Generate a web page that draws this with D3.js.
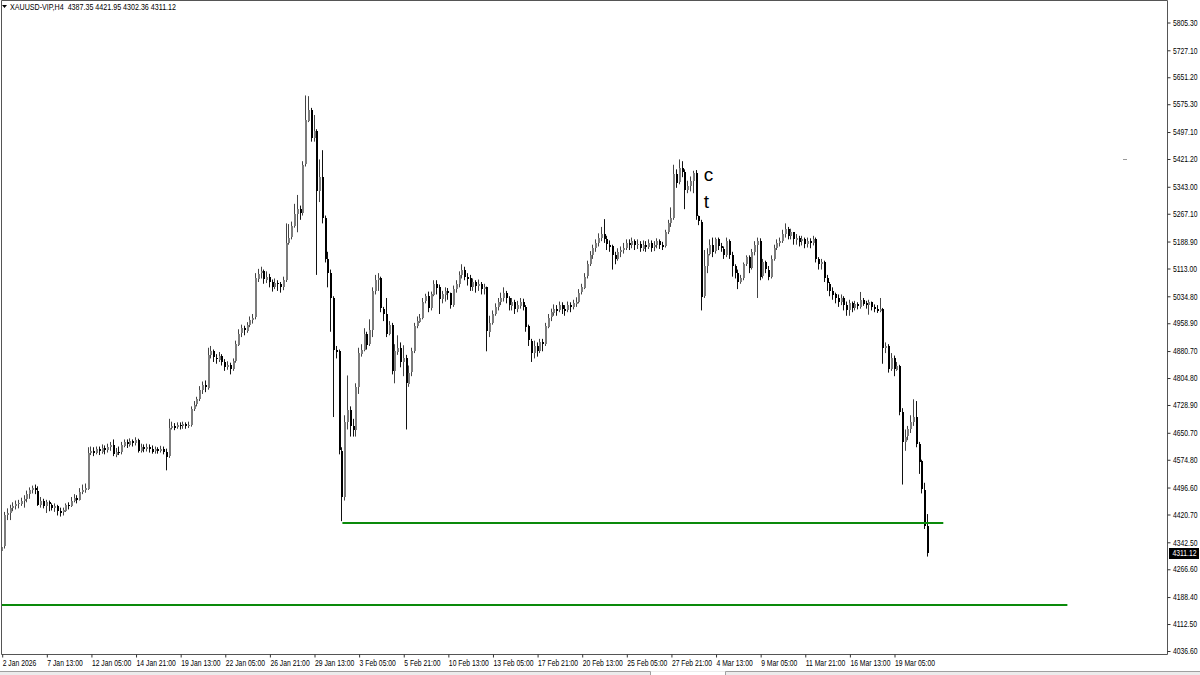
<!DOCTYPE html>
<html lang="en">
<head>
  <meta charset="UTF-8" />
  <title>XAUUSD-VIP H4</title>
  <script src="https://d3js.org/d3.v7.min.js"></script>
  <style>
    body { margin: 0; background: #fff; }
    svg { display: block; font-family: "Liberation Sans", Arial, sans-serif; }
  </style>
</head>
<body>

<svg width="1200" height="675"></svg>

<script>
  // H4 candles, open of each bar = previous close
  const firstOpen = 4318;
  const closes = [
    4330, 4418, 4425, 4440, 4445, 4450, 4452, 4460, 4465, 4478,
    4490, 4495, 4488, 4450, 4460, 4445, 4455, 4448, 4440, 4445,
    4430, 4425, 4432, 4448, 4445, 4460, 4468, 4462, 4485, 4490,
    4495, 4595, 4600, 4595, 4605, 4598, 4608, 4602, 4610, 4615,
    4590, 4598, 4595, 4615, 4625, 4618, 4628, 4622, 4630, 4600,
    4610, 4605, 4612, 4606, 4598, 4605, 4600, 4606, 4598, 4585,
    4665, 4670, 4665, 4672, 4668, 4675, 4670, 4674, 4718, 4730,
    4745, 4770, 4785, 4778, 4870, 4880, 4862, 4858, 4868, 4850,
    4835, 4842, 4830, 4852, 4900, 4930, 4945, 4938, 4955, 4968,
    4975, 5085, 5098, 5105, 5082, 5090, 5075, 5060, 5072, 5068,
    5060, 5080, 5185, 5200, 5232, 5265, 5280, 5270, 5405, 5530,
    5560, 5480, 5500, 5330, 5370, 5255, 5140, 5100, 5030, 4885,
    4880, 4600, 4470, 4680, 4715, 4670, 4660, 4780, 4875, 4885,
    4930, 4900, 4940, 5050, 5080, 5085, 5000, 4985, 4930, 4955,
    4825, 4880, 4890, 4850, 4860, 4790, 4820, 4880, 4950, 4965,
    4975, 5020, 5035, 5000, 5040, 5070, 5060, 5025, 5040, 5050,
    5045, 5010, 5055, 5070, 5095, 5110, 5090, 5085, 5060, 5075,
    5065, 5070, 5055, 5060, 4935, 4960, 4985, 5005, 5020, 5030,
    5045, 5030, 5010, 5020, 5000, 5010, 5020, 5005, 4950, 4910,
    4875, 4895, 4880, 4905, 4900, 4950, 4975, 4990, 5000, 4995,
    5010, 5000, 4995, 5010, 5005, 5015, 5020, 5045, 5060, 5090,
    5125, 5150, 5170, 5185, 5200, 5210, 5195, 5180, 5175, 5150,
    5140, 5160, 5165, 5172, 5185, 5180, 5190, 5178, 5182, 5170,
    5180, 5175, 5185, 5172, 5178, 5190, 5180, 5175, 5215, 5240,
    5255, 5380, 5355, 5395, 5385, 5335, 5345, 5360, 5382, 5260,
    5245, 5035, 5120, 5155, 5180, 5160, 5195, 5175, 5168, 5150,
    5190, 5150, 5120, 5100, 5075, 5085, 5125, 5145, 5115, 5160,
    5180, 5190, 5090, 5130, 5110, 5090, 5140, 5170, 5185, 5190,
    5210, 5225, 5205, 5215, 5195, 5200, 5190, 5195, 5182, 5190,
    5185, 5195, 5140, 5125, 5130, 5085, 5070, 5050, 5040, 5030,
    5020, 5030, 5010, 4995, 5015, 5000, 5012, 5005, 5025, 5015,
    5010, 5018, 5005, 5000, 4995, 5000, 4890, 4895, 4830, 4860,
    4830, 4840, 4710, 4625, 4640, 4660, 4680, 4695, 4620, 4570,
    4490, 4387.35, 4311.12
  ];
  const highs = [
    4345, 4428, 4438, 4448, 4455, 4460, 4462, 4468, 4475, 4488,
    4497, 4502, 4505, 4500, 4470, 4465, 4462, 4460, 4452, 4452,
    4448, 4440, 4440, 4452, 4455, 4470, 4478, 4475, 4495, 4505,
    4508, 4610, 4612, 4610, 4612, 4612, 4618, 4615, 4620, 4625,
    4632, 4608, 4612, 4625, 4632, 4632, 4635, 4632, 4638, 4634,
    4620, 4618, 4620, 4618, 4615, 4612, 4610, 4614, 4612, 4606,
    4690, 4682, 4678, 4680, 4680, 4682, 4680, 4682, 4725, 4740,
    4752, 4782, 4795, 4798, 4890, 4895, 4885, 4872, 4878, 4872,
    4858, 4852, 4848, 4860, 4910, 4942, 4955, 4952, 4962, 4978,
    4985, 5100, 5112, 5118, 5110, 5105, 5098, 5082, 5085, 5080,
    5075, 5090, 5240, 5238, 5245, 5295, 5320, 5290, 5415, 5600,
    5598, 5565, 5545, 5505, 5420, 5446, 5262, 5160, 5110, 5035,
    4895, 4885, 4610, 4700, 4812, 4725, 4690, 4790, 4890, 4900,
    4945, 4935, 4970, 5060, 5095, 5100, 5090, 5005, 5030, 4965,
    4960, 4900, 4925, 4905, 4897, 4870, 4840, 4890, 4960, 4978,
    4985, 5030, 5042, 5048, 5048, 5080, 5080, 5068, 5050, 5060,
    5058, 5045, 5065, 5080, 5105, 5125, 5118, 5100, 5095, 5085,
    5080, 5082, 5075, 5070, 5062, 4980, 4995, 5015, 5030, 5045,
    5060, 5050, 5035, 5030, 5025, 5022, 5030, 5028, 5010, 4955,
    4915, 4910, 4905, 4915, 4915, 4960, 4985, 5000, 5012, 5010,
    5020, 5018, 5010, 5020, 5018, 5025, 5032, 5055, 5070, 5100,
    5135, 5162, 5180, 5195, 5212, 5230, 5252, 5205, 5192, 5180,
    5160, 5170, 5175, 5185, 5195, 5195, 5200, 5195, 5195, 5190,
    5192, 5190, 5195, 5192, 5190, 5198, 5195, 5188, 5222, 5250,
    5285, 5405, 5392, 5420, 5415, 5392, 5360, 5372, 5388, 5390,
    5262, 5250, 5165, 5170, 5195, 5200, 5200, 5200, 5185, 5175,
    5200, 5195, 5160, 5125, 5110, 5095, 5130, 5150, 5150, 5168,
    5190, 5200, 5198, 5140, 5135, 5120, 5150, 5180, 5195, 5200,
    5222, 5240, 5230, 5225, 5215, 5210, 5205, 5205, 5200, 5200,
    5198, 5205, 5200, 5145, 5140, 5135, 5095, 5075, 5060, 5045,
    5040, 5040, 5035, 5020, 5025, 5020, 5022, 5018, 5047, 5030,
    5022, 5025, 5020, 5012, 5010, 5030, 5002, 4905, 4900, 4875,
    4868, 4850, 4842, 4720, 4660, 4670, 4700, 4745, 4740, 4625,
    4575, 4510, 4421.95
  ];
  const lows = [
    4310, 4325, 4405, 4405, 4430, 4435, 4438, 4445, 4440, 4455,
    4465, 4480, 4478, 4445, 4440, 4438, 4425, 4430, 4432, 4428,
    4418, 4415, 4418, 4428, 4435, 4442, 4455, 4452, 4460, 4478,
    4482, 4490, 4588, 4585, 4590, 4588, 4592, 4590, 4595, 4600,
    4585, 4582, 4588, 4590, 4610, 4608, 4612, 4612, 4615, 4595,
    4595, 4596, 4598, 4595, 4592, 4592, 4592, 4595, 4590, 4545,
    4580, 4660, 4658, 4662, 4660, 4662, 4662, 4664, 4668, 4712,
    4725, 4740, 4760, 4765, 4772, 4860, 4850, 4845, 4850, 4840,
    4825, 4828, 4815, 4825, 4848, 4895, 4920, 4925, 4932, 4948,
    4958, 4970, 5075, 5085, 5070, 5072, 5060, 5048, 5055, 5050,
    5045, 5052, 5075, 5180, 5195, 5228, 5215, 5250, 5262, 5400,
    5525, 5470, 5470, 5095, 5300, 5240, 5130, 5060, 4935, 4695,
    4860, 4590, 4402, 4460, 4660, 4640, 4640, 4640, 4760, 4865,
    4880, 4885, 4895, 4920, 5040, 5050, 4990, 4965, 4920, 4925,
    4815, 4790, 4870, 4835, 4810, 4660, 4780, 4810, 4875, 4945,
    4960, 4970, 5015, 4990, 4995, 5035, 5040, 4985, 5015, 5020,
    5025, 5000, 5005, 5045, 5060, 5085, 5080, 5065, 5050, 5050,
    5045, 5050, 5040, 5040, 4880, 4920, 4955, 4980, 4995, 5010,
    5020, 5015, 4995, 4995, 4985, 4990, 5000, 4995, 4935, 4895,
    4850, 4860, 4865, 4875, 4880, 4895, 4945, 4965, 4980, 4980,
    4990, 4985, 4980, 4990, 4990, 4998, 5005, 5015, 5040, 5055,
    5085, 5120, 5140, 5160, 5175, 5190, 5185, 5165, 5160, 5110,
    5125, 5135, 5145, 5155, 5165, 5165, 5170, 5165, 5168, 5160,
    5162, 5160, 5168, 5160, 5162, 5170, 5168, 5165, 5172, 5210,
    5230, 5250, 5340, 5350, 5370, 5280, 5325, 5330, 5325, 5250,
    5235, 4995, 5030, 5100, 5150, 5145, 5155, 5165, 5160, 5140,
    5145, 5140, 5090, 5085, 5055, 5070, 5080, 5120, 5100, 5110,
    5150, 5030, 5080, 5085, 5100, 5080, 5085, 5135, 5165, 5175,
    5185, 5200, 5195, 5195, 5180, 5180, 5175, 5178, 5170, 5172,
    5170, 5178, 5130, 5110, 5110, 5075, 5050, 5035, 5025, 5015,
    5005, 5010, 4995, 4980, 4980, 4990, 4995, 4998, 5000, 5008,
    5000, 4983, 4995, 4990, 4988, 4990, 4845, 4875, 4820, 4825,
    4810, 4825, 4700, 4505, 4600, 4630, 4650, 4670, 4610, 4535,
    4480, 4380, 4302.36
  ];

  const priceTicks = [
    5805.30, 5727.10, 5651.20, 5575.30, 5497.10, 5421.20, 5343.00, 5267.10,
    5188.90, 5113.00, 5034.80, 4958.90, 4880.70, 4804.80, 4728.90, 4650.70,
    4574.80, 4496.60, 4420.70, 4342.50, 4266.60, 4188.40, 4112.50, 4036.60
  ];
  const timeLabels = [
    "2 Jan 2026", "7 Jan 13:00", "12 Jan 05:00", "14 Jan 21:00", "19 Jan 13:00",
    "22 Jan 05:00", "26 Jan 21:00", "29 Jan 13:00", "3 Feb 05:00", "5 Feb 21:00",
    "10 Feb 13:00", "13 Feb 05:00", "17 Feb 21:00", "20 Feb 13:00", "25 Feb 05:00",
    "27 Feb 21:00", "4 Mar 13:00", "9 Mar 05:00", "11 Mar 21:00", "16 Mar 13:00",
    "19 Mar 05:00"
  ];
  const barsPerLabel = 16;

  // horizontal levels drawn on the chart: [fromBar, toBar, price]
  const levels = [
    [122, 337.5, 4396],
    [-0.3, 382, 4167]
  ];

  const title = "XAUUSD-VIP,H4  4387.35 4421.95 4302.36 4311.12";
  const lastPrice = 4311.12;

  const svg = d3.select("svg");
  const plotRight = 1167.5;
  const plotBottom = 654.5;

  const x = d3.scaleLinear().domain([0, 320]).range([2.2, 894.5]);
  const y = d3.scaleLinear().domain([4036.6, 5805.3]).range([651, 22.5]);

  const bars = closes.map((c, i) => ({
    i, c,
    o: i === 0 ? firstOpen : closes[i - 1],
    h: highs[i],
    l: lows[i]
  }));

  svg.append("rect").attr("width", 1200).attr("height", 675).attr("fill", "#fff");

  svg.append("clipPath").attr("id", "plot")
    .append("rect").attr("x", 1).attr("y", 1).attr("width", plotRight - 1).attr("height", plotBottom - 1);

  const g = svg.append("g").attr("clip-path", "url(#plot)");

  // candles
  const candle = g.selectAll("g.candle")
    .data(bars)
    .enter()
    .append("g")
    .attr("class", "candle");

  candle.append("line")
    .attr("x1", d => Math.round(x(d.i)) - 0.5)
    .attr("x2", d => Math.round(x(d.i)) - 0.5)
    .attr("y1", d => y(d.h))
    .attr("y2", d => y(d.l))
    .attr("stroke", d => d.c >= d.o ? "#444" : "#111")
    .attr("stroke-width", 1);

  candle.append("rect")
    .attr("x", d => Math.round(x(d.i)) - 1)
    .attr("width", 2)
    .attr("y", d => Math.round(y(Math.max(d.o, d.c))))
    .attr("height", d => Math.max(1, Math.round(Math.abs(y(d.o) - y(d.c)))))
    .attr("fill", d => d.c >= d.o ? "#7c7c7c" : "#000");

  // level lines
  g.selectAll("line.level")
    .data(levels)
    .enter()
    .append("line")
    .attr("class", "level")
    .attr("x1", d => x(d[0]))
    .attr("x2", d => x(d[1]))
    .attr("y1", d => Math.round(y(d[2])))
    .attr("y2", d => Math.round(y(d[2])))
    .attr("stroke", "#0a8a0a")
    .attr("stroke-width", 2);

  // stray text objects on the chart
  g.append("text").attr("x", x(251.6)).attr("y", y(5359))
    .attr("font-size", 19).attr("fill", "#000").text("c");
  g.append("text").attr("x", x(251.6)).attr("y", y(5282))
    .attr("font-size", 19).attr("fill", "#000").text("t");
  svg.append("line").attr("x1", 1123).attr("x2", 1127).attr("y1", 159.5).attr("y2", 159.5)
    .attr("stroke", "#999");

  // frame
  svg.append("path")
    .attr("d", `M1.5,${plotBottom} V0.5 H${plotRight} V${plotBottom} H1.5`)
    .attr("fill", "none")
    .attr("stroke", "#555");

  // price axis
  const yAxis = d3.axisRight(y)
    .tickValues(priceTicks)
    .tickSize(3)
    .tickPadding(2)
    .tickFormat(d => d.toFixed(2));

  const ya = svg.append("g")
    .attr("transform", `translate(${plotRight},0)`)
    .call(yAxis);
  ya.select(".domain").remove();
  ya.selectAll("line").attr("stroke", "#333");
  ya.selectAll("text")
    .attr("font-size", 8.5)
    .attr("font-family", "Liberation Sans, Arial, sans-serif")
    .attr("fill", "#000")
    .attr("x", 5.5 / 0.8)
    .attr("transform", "scale(0.8,1)");

  // current price tag
  svg.append("rect")
    .attr("x", plotRight + 1.5)
    .attr("y", Math.round(y(lastPrice)) - 5)
    .attr("width", 30)
    .attr("height", 11)
    .attr("fill", "#000");
  svg.append("text")
    .attr("transform", `translate(${plotRight + 5},${y(lastPrice)}) scale(0.8,1)`)
    .attr("dy", "0.35em")
    .attr("font-size", 8.5)
    .attr("fill", "#fff")
    .text(lastPrice.toFixed(2));

  // time axis
  const xAxis = d3.axisBottom(x)
    .tickValues(timeLabels.map((t, k) => k * barsPerLabel))
    .tickSize(3)
    .tickPadding(2)
    .tickFormat((d, k) => timeLabels[k]);

  const xa = svg.append("g")
    .attr("transform", `translate(0,${plotBottom})`)
    .call(xAxis);
  xa.select(".domain").remove();
  xa.selectAll("line").attr("stroke", "#333");
  xa.selectAll("text")
    .attr("font-size", 8.5)
    .attr("font-family", "Liberation Sans, Arial, sans-serif")
    .attr("fill", "#000")
    .attr("text-anchor", "start")
    .attr("x", 0)
    .attr("transform", "scale(0.8,1)");

  // title
  svg.append("path").attr("d", "M2,5 L7,5 L4.5,8 Z").attr("fill", "#000");
  svg.append("text")
    .attr("transform", "translate(10,10) scale(0.84,1)")
    .attr("font-size", 8.5)
    .attr("fill", "#000")
    .style("white-space", "pre")
    .text(title);

  // bottom tab strip
  svg.append("rect").attr("x", 0).attr("y", 671).attr("width", 1200).attr("height", 4).attr("fill", "#ececec");
  svg.append("path")
    .attr("d", "M0,671.5 H650.5 V675 M725.5,675 V671.5 H1200")
    .attr("fill", "none")
    .attr("stroke", "#a0a0a0");
  svg.append("rect").attr("x", 651).attr("y", 672).attr("width", 74).attr("height", 3).attr("fill", "#fff");
</script>

</body>
</html>
